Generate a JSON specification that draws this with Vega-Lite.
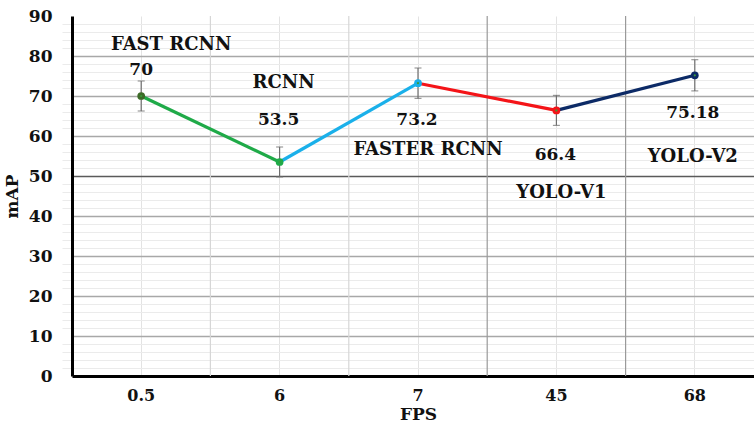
{
  "$schema": "https://vega.github.io/schema/vega-lite/v6.json",
  "width": 682,
  "height": 360,
  "autosize": {"type": "none"},
  "padding": {"left": 72, "top": 16, "right": 0, "bottom": 51},
  "background": "white",
  "config": {
    "view": {"stroke": null},
    "font": "DejaVu Serif",
    "text": {"font": "DejaVu Serif", "fontWeight": "bold", "color": "#111", "baseline": "middle", "align": "center"}
  },
  "datasets": {
    "detectors": [
      {"fps": "0.5", "model": "FAST RCNN", "mAP": 70, "err": 3.75},
      {"fps": "6", "model": "RCNN", "mAP": 53.5, "err": 3.75},
      {"fps": "7", "model": "FASTER RCNN", "mAP": 73.2, "err": 3.8},
      {"fps": "45", "model": "YOLO-V1", "mAP": 66.4, "err": 3.75},
      {"fps": "68", "model": "YOLO-V2", "mAP": 75.18, "err": 3.9}
    ],
    "segments": [
      {"into": "RCNN", "fps": "0.5", "mAP": 70},
      {"into": "RCNN", "fps": "6", "mAP": 53.5},
      {"into": "FASTER RCNN", "fps": "6", "mAP": 53.5},
      {"into": "FASTER RCNN", "fps": "7", "mAP": 73.2},
      {"into": "YOLO-V1", "fps": "7", "mAP": 73.2},
      {"into": "YOLO-V1", "fps": "45", "mAP": 66.4},
      {"into": "YOLO-V2", "fps": "45", "mAP": 66.4},
      {"into": "YOLO-V2", "fps": "68", "mAP": 75.18}
    ]
  },
  "data": {"name": "detectors"},
  "encoding": {
    "x": {"field": "fps", "type": "ordinal", "sort": null,
      "scale": {"type": "band", "domain": ["0.5", "6", "7", "45", "68"], "range": [0, 692], "paddingInner": 0, "paddingOuter": 0},
      "axis": null},
    "y": {"field": "mAP", "type": "quantitative",
      "scale": {"domain": [0, 90], "nice": false, "zero": true},
      "axis": null}
  },
  "layer": [
    {
      "description": "minor gridlines: band centres and every 2 mAP",
      "mark": {"type": "point", "opacity": 0},
      "encoding": {
        "x": {"field": "fps", "type": "ordinal", "sort": null,
          "scale": {"type": "band", "domain": ["0.5", "6", "7", "45", "68"], "range": [0, 692], "paddingInner": 0, "paddingOuter": 0},
          "axis": {"orient": "top", "bandPosition": 0.5, "grid": true, "gridColor": "#e3e3e3", "gridWidth": 1,
            "labels": false, "ticks": false, "domain": false, "title": null}},
        "y": {"field": "mAP", "type": "quantitative",
          "scale": {"domain": [0, 90], "nice": false, "zero": true},
          "axis": {"orient": "right", "values": [2, 4, 6, 8, 12, 14, 16, 18, 22, 24, 26, 28, 32, 34, 36, 38, 42, 44, 46, 48, 52, 54, 56, 58, 62, 64, 66, 68, 72, 74, 76, 78, 82, 84, 86, 88],
            "grid": true, "gridColor": "#ebebeb", "gridWidth": 1, "labels": false, "ticks": false, "domain": false, "title": null}}
      }
    },
    {
      "description": "main axes with major horizontal gridlines",
      "mark": {"type": "point", "opacity": 0},
      "encoding": {
        "x": {"field": "fps", "type": "ordinal", "sort": null,
          "scale": {"type": "band", "domain": ["0.5", "6", "7", "45", "68"], "range": [0, 692], "paddingInner": 0, "paddingOuter": 0},
          "axis": {"orient": "bottom", "bandPosition": 0.5, "grid": false,
            "labelAngle": 0, "labelFont": "DejaVu Serif", "labelFontSize": 16, "labelFontWeight": "bold", "labelColor": "#111", "labelPadding": 11,
            "ticks": false, "domain": true, "domainColor": "#000", "domainWidth": 3,
            "title": "FPS", "titleFont": "DejaVu Serif", "titleFontSize": 17, "titleFontWeight": "bold", "titleColor": "#111", "titlePadding": 3}},
        "y": {"field": "mAP", "type": "quantitative",
          "scale": {"domain": [0, 90], "nice": false, "zero": true},
          "axis": {"orient": "left", "values": [0, 10, 20, 30, 40, 50, 60, 70, 80, 90], "grid": true,
            "gridColor": {"condition": {"test": "datum.value === 50", "value": "#5a5a5a"}, "value": "#a8a8a8"},
            "gridOpacity": {"condition": {"test": "datum.value === 90 || datum.value === 0", "value": 0}, "value": 1},
            "gridWidth": 1.3,
            "labelFont": "DejaVu Serif", "labelFontSize": 17, "labelFontWeight": "bold", "labelColor": "#111", "labelPadding": 20,
            "ticks": false, "domain": true, "domainColor": "#000", "domainWidth": 3,
            "title": "mAP", "titleFont": "DejaVu Serif", "titleFontSize": 17, "titleFontWeight": "bold", "titleColor": "#111", "titlePadding": 7}}
      }
    },
    {
      "description": "vertical separators at the left edge of each FPS band",
      "transform": [{"filter": "datum.fps !== '0.5'"}],
      "mark": {"type": "rule", "strokeWidth": 1.2},
      "encoding": {
        "x": {"field": "fps", "type": "ordinal", "sort": null, "bandPosition": 0,
          "scale": {"type": "band", "domain": ["0.5", "6", "7", "45", "68"], "range": [0, 692], "paddingInner": 0, "paddingOuter": 0},
          "axis": null},
        "y": null,
        "color": {"condition": {"test": "datum.fps === '45' || datum.fps === '68'", "value": "#9a9a9a"}, "value": "#d6d6d6"}
      }
    },
    {
      "description": "error bars",
      "mark": {"type": "errorbar", "color": "#6e6e6e", "thickness": 1.2, "ticks": {"size": 7, "thickness": 1.2, "color": "#6e6e6e"}},
      "encoding": {
        "y": {"field": "mAP", "type": "quantitative", "scale": {"domain": [0, 90], "nice": false, "zero": true}, "axis": null},
        "yError": {"field": "err"}
      }
    },
    {
      "description": "coloured segments between detectors",
      "data": {"name": "segments"},
      "mark": {"type": "line", "strokeWidth": 3.2},
      "encoding": {
        "detail": {"field": "into"},
        "color": {"field": "into", "type": "nominal", "legend": null,
          "scale": {"domain": ["FAST RCNN", "RCNN", "FASTER RCNN", "YOLO-V1", "YOLO-V2"], "range": ["#3d6b28", "#1faa48", "#1ab0ea", "#f41418", "#0c2a66"]}}
      }
    },
    {
      "mark": {"type": "point", "filled": true, "size": 60, "opacity": 1},
      "encoding": {
        "color": {"field": "model", "type": "nominal", "legend": null,
          "scale": {"domain": ["FAST RCNN", "RCNN", "FASTER RCNN", "YOLO-V1", "YOLO-V2"], "range": ["#3d6b28", "#1faa48", "#1ab0ea", "#f41418", "#0c2a66"]}}
      }
    },
    {
      "mark": {"type": "point", "filled": true, "size": 5, "opacity": 1, "color": "#3a9a3a"}
    },
    {
      "transform": [{"filter": "datum.model === 'FAST RCNN'"}],
      "mark": {"type": "text", "fontSize": 18, "dx": 30, "dy": -51},
      "encoding": {"text": {"field": "model", "type": "nominal"}}
    },
    {
      "transform": [{"filter": "datum.model === 'FAST RCNN'"}],
      "mark": {"type": "text", "fontSize": 17, "dx": 0, "dy": -26},
      "encoding": {"text": {"field": "mAP", "type": "nominal"}}
    },
    {
      "transform": [{"filter": "datum.model === 'RCNN'"}],
      "mark": {"type": "text", "fontSize": 18, "dx": 4, "dy": -79},
      "encoding": {"text": {"field": "model", "type": "nominal"}}
    },
    {
      "transform": [{"filter": "datum.model === 'RCNN'"}],
      "mark": {"type": "text", "fontSize": 17, "dx": -1, "dy": -42},
      "encoding": {"text": {"field": "mAP", "type": "nominal"}}
    },
    {
      "transform": [{"filter": "datum.model === 'FASTER RCNN'"}],
      "mark": {"type": "text", "fontSize": 18, "dx": 10, "dy": 67},
      "encoding": {"text": {"field": "model", "type": "nominal"}}
    },
    {
      "transform": [{"filter": "datum.model === 'FASTER RCNN'"}],
      "mark": {"type": "text", "fontSize": 17, "dx": -1, "dy": 37},
      "encoding": {"text": {"field": "mAP", "type": "nominal"}}
    },
    {
      "transform": [{"filter": "datum.model === 'YOLO-V1'"}],
      "mark": {"type": "text", "fontSize": 18, "dx": 5, "dy": 83},
      "encoding": {"text": {"field": "model", "type": "nominal"}}
    },
    {
      "transform": [{"filter": "datum.model === 'YOLO-V1'"}],
      "mark": {"type": "text", "fontSize": 17, "dx": -1, "dy": 45},
      "encoding": {"text": {"field": "mAP", "type": "nominal"}}
    },
    {
      "transform": [{"filter": "datum.model === 'YOLO-V2'"}],
      "mark": {"type": "text", "fontSize": 18, "dx": -2, "dy": 82},
      "encoding": {"text": {"field": "model", "type": "nominal"}}
    },
    {
      "transform": [{"filter": "datum.model === 'YOLO-V2'"}],
      "mark": {"type": "text", "fontSize": 17, "dx": -2, "dy": 38},
      "encoding": {"text": {"field": "mAP", "type": "nominal"}}
    }
  ],
  "resolve": {"axis": {"x": "independent", "y": "independent"}}
}
